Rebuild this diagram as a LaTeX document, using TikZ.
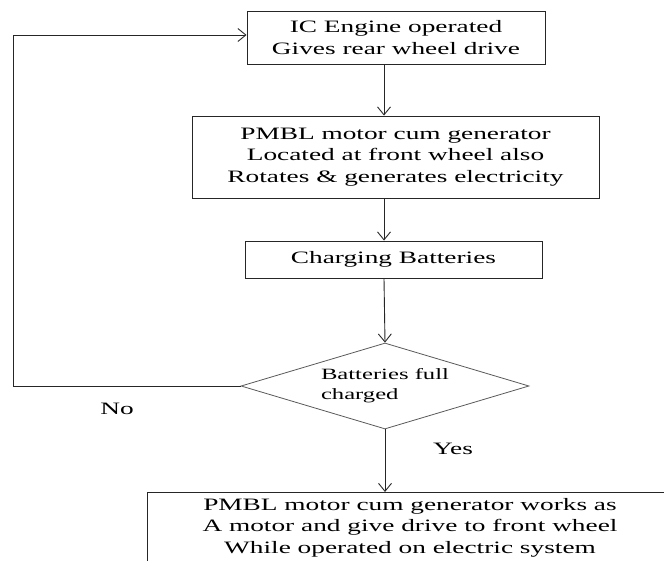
\documentclass[tikz,border=0pt]{standalone}
\usepackage{fontspec}
\setmainfont{Liberation Serif}[FakeStretch=1.57]
\usetikzlibrary{shapes.geometric,arrows.meta}
\begin{document}
\begin{tikzpicture}[x=1pt,y=-1pt,
  box/.style={draw=black!85, line width=0.9pt, rectangle, inner sep=0pt, align=center, font=\fontsize{17.4}{21.5}\selectfont},
  dec/.style={draw=black!65, line width=0.8pt, diamond, aspect=3.36, inner sep=0pt, minimum width=288pt, minimum height=86pt, align=left, font=\fontsize{15.7}{20}\selectfont},
  lbl/.style={inner sep=0pt, font=\fontsize{17.4}{21.5}\selectfont},
  arr/.style={draw=black!85, line width=0.9pt, -{Straight Barb[length=8pt,width=13pt]}},
  ln/.style={draw=black!85, line width=0.9pt}]
\useasboundingbox (0,0) rectangle (664,560);
\node[box, minimum width=298pt, minimum height=53pt] (b1) at (396,37.5) {IC Engine operated\\Gives rear wheel drive};
\node[box, minimum width=407pt, minimum height=82pt] (b2) at (395.5,157) {PMBL motor cum generator\\Located at front wheel also\\Rotates \& generates electricity};
\node[box, minimum width=297pt, minimum height=37pt] (b3) at (393.5,259.5) {Charging Batteries};
\node[dec] (d) at (385,386) {Batteries full\\charged};
\node[box, minimum width=526pt, minimum height=70pt, anchor=north] (b4) at (410,492) {PMBL motor cum generator works as\\A motor and give drive to front wheel\\While operated on electric system};
\coordinate (ax) at (384,0);
\coordinate (lc) at (13,386);
\draw[arr] (b1.south -| ax) -- (b2.north -| ax);
\draw[arr] (b2.south -| ax) -- (b3.north -| ax);
\draw[arr] (b3.south -| ax) -- (d.north);
\draw[arr] (d.south) -- (b4.north -| d.south);
\draw[arr] (d.west) -- (lc) |- ([yshift=2.5pt]b1.west);
\node[lbl] (no) at (117,409) {No};
\node[lbl] (yes) at (453,449) {Yes};
\end{tikzpicture}
\end{document}
